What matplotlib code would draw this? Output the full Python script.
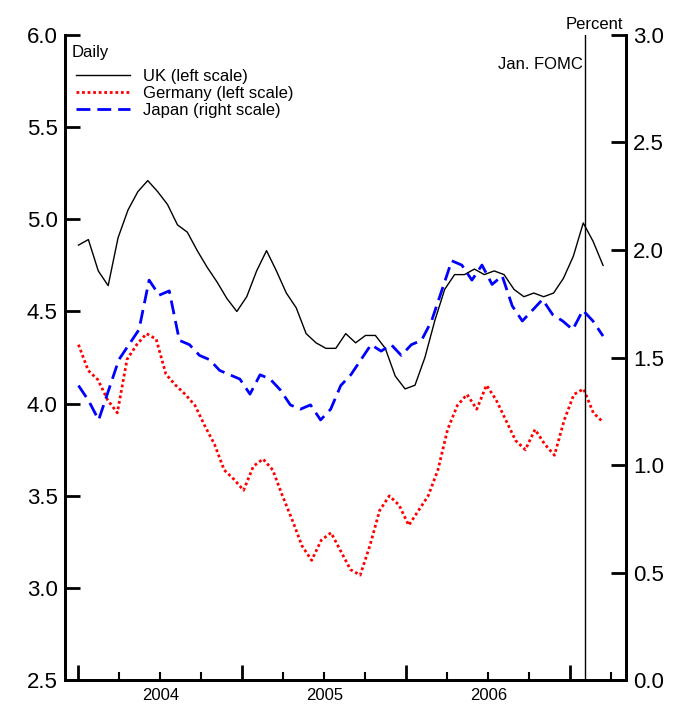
import numpy as np
import matplotlib
matplotlib.use("Agg")
import matplotlib.pyplot as plt

uk = [4.86,4.89,4.72,4.64,4.90,5.05,5.15,5.21,5.15,5.08,4.97,4.93,4.83,4.74,4.66,4.57,4.50,4.58,4.72,4.83,4.72,4.60,4.52,4.38,4.33,4.30,4.30,4.38,4.33,4.37,4.37,4.30,4.15,4.08,4.10,4.25,4.45,4.62,4.70,4.70,4.73,4.70,4.72,4.70,4.62,4.58,4.60,4.58,4.60,4.68,4.80,4.98,4.88,4.75]
germany = [4.32,4.18,4.13,4.02,3.95,4.24,4.32,4.38,4.35,4.16,4.10,4.05,3.99,3.88,3.78,3.64,3.59,3.53,3.66,3.70,3.64,3.50,3.37,3.23,3.15,3.26,3.30,3.20,3.10,3.07,3.23,3.42,3.50,3.45,3.34,3.42,3.50,3.64,3.86,3.99,4.05,3.97,4.10,4.02,3.91,3.80,3.75,3.86,3.78,3.72,3.91,4.05,4.08,3.95,3.90]
japan = [1.37,1.30,1.21,1.35,1.49,1.56,1.63,1.86,1.79,1.81,1.58,1.56,1.51,1.49,1.44,1.42,1.40,1.33,1.42,1.40,1.35,1.28,1.26,1.28,1.21,1.26,1.37,1.42,1.49,1.56,1.53,1.56,1.51,1.56,1.58,1.67,1.81,1.95,1.93,1.86,1.93,1.84,1.88,1.74,1.67,1.72,1.77,1.70,1.67,1.63,1.72,1.67,1.60]
start, end = 2004.0, 2007.2
fomc = 2007.09
year_labels = ["2004", "2005", "2006"]

plt.rcParams['font.family'] = ['Liberation Sans', 'DejaVu Sans']
fig = plt.figure(figsize=(6.94, 7.13), dpi=100)
ax = fig.add_axes([0.093, 0.046, 0.809, 0.905])
ax2 = ax.twinx()

ax.plot(np.linspace(start, end, len(uk)), uk, color='black', lw=1, label='UK (left scale)')
ax.plot(np.linspace(start, end, len(germany)), germany, color='red', lw=2, ls=(0, (1, 1)), label='Germany (left scale)')
l3, = ax2.plot(np.linspace(start, end, len(japan)), japan, color='blue', lw=2, ls=(0, (5, 2.5)), label='Japan (right scale)')
ax.axvline(fomc, color='black', lw=1)

ax.set_xlim(2003.915, 2007.34)
ax.set_ylim(2.5, 6.0)
ax2.set_ylim(0, 3.0)
ax.set_yticks(np.arange(2.5, 6.01, 0.5))
ax.set_yticklabels([f"{v:.1f}" for v in np.arange(2.5, 6.01, 0.5)], fontsize=16)
ax2.set_yticks(np.arange(0, 3.01, 0.5))
ax2.set_yticklabels([f"{v:.1f}" for v in np.arange(0, 3.01, 0.5)], fontsize=16)
ax.set_xticks(np.arange(2004, 2007.01, 1.0))
ax.set_xticklabels([])
ax.set_xticks([t for t in np.arange(2004, 2007.3, 0.25) if abs(t - round(t)) > 0.01], minor=True)
ax.set_xticklabels([], minor=True)
for i, lab in enumerate(year_labels):
    ax.text(2004.5 + i, 2.5 - 0.045, lab, fontsize=12, ha='center', va='top')
ax.tick_params(axis='x', which='minor', direction='in', length=6, width=1.5)
ax.tick_params(axis='x', which='major', direction='in', length=11, width=2)
ax.tick_params(axis='y', direction='in', length=11, width=2, pad=5)
ax2.tick_params(axis='y', direction='in', length=11, width=2, pad=5)
for a in (ax, ax2):
    a.spines['top'].set_visible(False)
    for s in ('left', 'right', 'bottom'):
        a.spines[s].set_linewidth(2)

ax.text(0.012, 0.985, 'Daily', transform=ax.transAxes, fontsize=12, va='top')
ax.text(0.995, 1.005, 'Percent', transform=ax.transAxes, fontsize=12, ha='right', va='bottom')
ax.text(fomc - 0.01, 5.88, 'Jan. FOMC', fontsize=12, ha='right', va='top')
h1, lab1 = ax.get_legend_handles_labels()
ax.legend(h1 + [l3], lab1 + [l3.get_label()], loc='upper left', bbox_to_anchor=(0.0, 0.965),
          frameon=False, fontsize=12, handlelength=3.2, labelspacing=0.1, borderaxespad=0.3)
fig.savefig('out.png', dpi=100)
